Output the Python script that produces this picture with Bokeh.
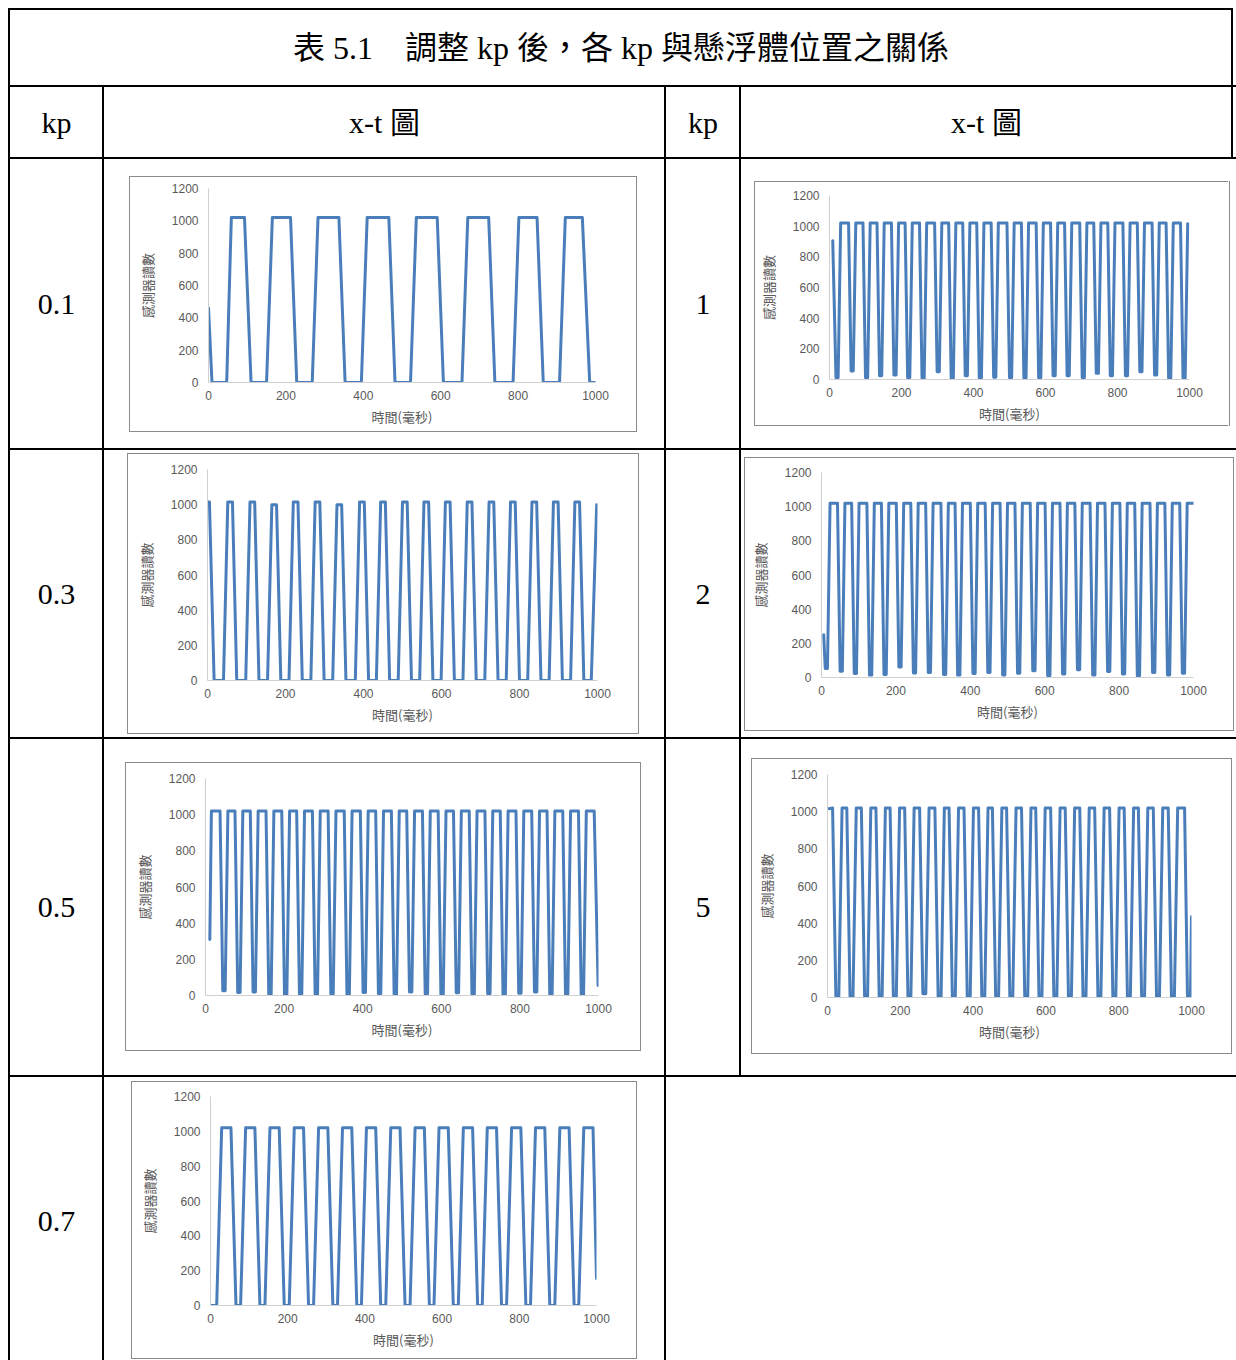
from bokeh.plotting import figure
from bokeh.layouts import row, column
from bokeh.models import Spacer, Range1d, FixedTicker
from bokeh.core.properties import value
from bokeh.embed import file_html
from bokeh.resources import INLINE

# ---------------- texts ----------------
TITLE = "表 5.1\u3000調整 kp 後，各 kp 與懸浮體位置之關係"
HEAD_KP = "kp"
HEAD_XT = "x-t 圖"
X_LABEL = "時間(毫秒)"
Y_LABEL = "感測器讀數"
X_TICKS = [0, 200, 400, 600, 800, 1000]
Y_TICKS = [0, 200, 400, 600, 800, 1000, 1200]

# ---------------- data (time in ms, sensor reading) ----------------
KP01_T = [0, 9, 47, 59, 93, 110,
          150, 165, 212, 228,
          268, 283, 337, 353,
          395, 410, 466, 482,
          522, 537, 591, 607,
          655, 670, 724, 740,
          787, 802, 849, 865,
          907, 922, 966, 985, 1000]
KP01_Y = [460, 0, 0, 1020, 1020, 0,
          0, 1020, 1020, 0,
          0, 1020, 1020, 0,
          0, 1020, 1020, 0,
          0, 1020, 1020, 0,
          0, 1020, 1020, 0,
          0, 1020, 1020, 0,
          0, 1020, 1020, 0, 0]

KP1_T = [9,
         18, 24, 31, 53,
         60, 66, 73, 93,
         100, 106, 113, 132,
         139, 145, 152, 172,
         179, 185, 192, 210,
         217, 223, 230, 250,
         257, 263, 270, 292,
         299, 305, 312, 331,
         338, 344, 351, 370,
         377, 383, 390, 409,
         416, 422, 429, 449,
         456, 462, 469, 493,
         500, 506, 513, 533,
         540, 546, 553, 574,
         581, 587, 594, 614,
         621, 627, 634, 653,
         660, 666, 673, 695,
         702, 708, 715, 734,
         741, 747, 754, 773,
         780, 786, 793, 815,
         822, 828, 835, 855,
         862, 868, 875, 896,
         903, 909, 916, 935,
         942, 948, 955, 975,
         982, 988, 995]
KP1_Y = [905,
         12, 12, 1020, 1020,
         55, 55, 1020, 1020,
         12, 12, 1020, 1020,
         25, 25, 1020, 1020,
         30, 30, 1020, 1020,
         12, 12, 1020, 1020,
         8, 8, 1020, 1020,
         50, 50, 1020, 1020,
         8, 8, 1020, 1020,
         25, 25, 1020, 1020,
         10, 10, 1020, 1020,
         15, 15, 1020, 1020,
         12, 12, 1020, 1020,
         8, 8, 1020, 1020,
         12, 12, 1020, 1020,
         25, 25, 1020, 1020,
         25, 25, 1020, 1020,
         12, 12, 1020, 1020,
         40, 40, 1020, 1020,
         25, 25, 1020, 1020,
         25, 25, 1020, 1020,
         50, 50, 1020, 1020,
         30, 30, 1020, 1020,
         8, 8, 1020, 1020,
         10, 10, 1015]

KP03_T = [0, 5, 17,
          41, 52, 64, 75,
          98, 109, 121, 132,
          154, 165, 177, 188,
          209, 220, 232, 243,
          265, 276, 288, 299,
          321, 332, 344, 355,
          379, 390, 402, 413,
          433, 444, 456, 467,
          489, 500, 512, 523,
          544, 555, 567, 578,
          599, 610, 622, 633,
          655, 666, 678, 689,
          711, 722, 734, 745,
          766, 777, 789, 800,
          821, 832, 844, 855,
          876, 887, 899, 910,
          931, 942, 954, 965,
          984, 998]
KP03_Y = [1015, 1015, 0,
          0, 1015, 1015, 0,
          0, 1015, 1015, 0,
          0, 1000, 1000, 0,
          0, 1015, 1015, 0,
          0, 1015, 1015, 0,
          0, 1000, 1000, 0,
          0, 1015, 1015, 0,
          0, 1015, 1015, 0,
          0, 1015, 1015, 0,
          0, 1015, 1015, 0,
          0, 1015, 1015, 0,
          0, 1015, 1015, 0,
          0, 1015, 1015, 0,
          0, 1015, 1015, 0,
          0, 1015, 1015, 0,
          0, 1015, 1015, 0,
          0, 1015, 1015, 0,
          0, 1000]

KP2_T = [6,
         10, 16, 23, 43,
         50, 56, 63, 81,
         88, 94, 101, 122,
         129, 135, 142, 161,
         168, 174, 181, 201,
         208, 214, 221, 240,
         247, 253, 260, 280,
         287, 293, 300, 321,
         328, 334, 341, 359,
         366, 372, 379, 400,
         407, 413, 420, 440,
         447, 453, 460, 480,
         487, 493, 500, 520,
         527, 533, 540, 561,
         568, 574, 581, 601,
         608, 614, 621, 641,
         648, 654, 661, 681,
         688, 694, 701, 722,
         729, 735, 742, 762,
         769, 775, 782, 802,
         809, 815, 822, 842,
         849, 855, 862, 883,
         890, 896, 903, 923,
         930, 936, 943, 963,
         970, 976, 983, 1000]
KP2_Y = [250,
         53, 53, 1020, 1020,
         37, 37, 1020, 1020,
         23, 23, 1020, 1020,
         14, 14, 1020, 1020,
         18, 18, 1020, 1020,
         62, 62, 1020, 1020,
         27, 27, 1020, 1020,
         30, 30, 1020, 1020,
         18, 18, 1020, 1020,
         14, 14, 1020, 1020,
         23, 23, 1020, 1020,
         30, 30, 1020, 1020,
         15, 15, 1020, 1020,
         25, 25, 1020, 1020,
         40, 40, 1020, 1020,
         10, 10, 1020, 1020,
         20, 20, 1020, 1020,
         45, 45, 1020, 1020,
         15, 15, 1020, 1020,
         35, 35, 1020, 1020,
         20, 20, 1020, 1020,
         10, 10, 1020, 1020,
         30, 30, 1020, 1020,
         15, 15, 1020, 1020,
         25, 25, 1020, 1020]

KP05_T = [11, 15, 37,
          44, 50, 57, 75,
          82, 88, 95, 114,
          121, 127, 134, 154,
          161, 167, 174, 194,
          201, 207, 214, 232,
          239, 245, 252, 272,
          279, 285, 292, 312,
          319, 325, 332, 353,
          360, 366, 373, 394,
          401, 407, 414, 433,
          440, 446, 453, 473,
          480, 486, 493, 512,
          519, 525, 532, 552,
          559, 565, 572, 592,
          599, 605, 612, 631,
          638, 644, 651, 671,
          678, 684, 691, 711,
          718, 724, 731, 750,
          757, 763, 770, 790,
          797, 803, 810, 830,
          837, 843, 850, 869,
          876, 882, 889, 909,
          916, 922, 929, 949,
          956, 962, 969, 989,
          999]
KP05_Y = [310, 1020, 1020,
          26, 26, 1020, 1020,
          17, 17, 1020, 1020,
          20, 20, 1020, 1020,
          2, 2, 1020, 1020,
          2, 2, 1020, 1020,
          7, 7, 1020, 1020,
          2, 2, 1020, 1020,
          7, 7, 1020, 1020,
          0, 0, 1020, 1020,
          17, 17, 1020, 1020,
          10, 10, 1020, 1020,
          5, 5, 1020, 1020,
          20, 20, 1020, 1020,
          8, 8, 1020, 1020,
          3, 3, 1020, 1020,
          15, 15, 1020, 1020,
          5, 5, 1020, 1020,
          10, 10, 1020, 1020,
          3, 3, 1020, 1020,
          12, 12, 1020, 1020,
          20, 20, 1020, 1020,
          5, 5, 1020, 1020,
          8, 8, 1020, 1020,
          3, 3, 1020, 1020,
          55]

KP5_T = [0,
         14, 23, 31, 40,
         53, 62, 70, 79,
         93, 102, 110, 119,
         133, 142, 150, 159,
         172, 181, 189, 198,
         212, 221, 229, 238,
         253, 262, 270, 279,
         295, 304, 312, 321,
         334, 343, 351, 360,
         375, 384, 392, 401,
         415, 424, 432, 441,
         453, 462, 470, 479,
         492, 501, 509, 518,
         533, 542, 550, 559,
         572, 581, 589, 598,
         613, 622, 630, 639,
         653, 662, 670, 679,
         693, 702, 710, 719,
         734, 743, 751, 760,
         775, 784, 792, 801,
         815, 824, 832, 841,
         854, 863, 871, 880,
         895, 904, 912, 921,
         936, 945, 953, 962,
         981, 989, 997, 1000]
KP5_Y = [1015,
         1020, 0, 0, 1020,
         1020, 0, 0, 1020,
         1020, 0, 0, 1020,
         1020, 0, 0, 1020,
         1020, 0, 0, 1020,
         1020, 0, 0, 1020,
         1020, 20, 20, 1020,
         1020, 0, 0, 1020,
         1020, 0, 0, 1020,
         1020, 0, 0, 1020,
         1020, 0, 0, 1020,
         1020, 0, 0, 1020,
         1020, 0, 0, 1020,
         1020, 0, 0, 1020,
         1020, 0, 0, 1020,
         1020, 0, 0, 1020,
         1020, 0, 0, 1020,
         1020, 0, 0, 1020,
         1020, 0, 0, 1020,
         1020, 0, 0, 1020,
         1020, 0, 0, 1020,
         1020, 0, 0, 1020,
         1020, 0, 0, 1020,
         1020, 0, 0, 1020,
         1020, 0, 0, 434]

KP07_T = [0, 16, 29, 53, 66,
          78, 91, 115, 128,
          141, 154, 178, 191,
          204, 217, 241, 254,
          267, 280, 304, 317,
          329, 342, 366, 379,
          391, 404, 428, 441,
          454, 467, 491, 504,
          517, 530, 554, 567,
          579, 592, 616, 629,
          642, 655, 679, 692,
          704, 717, 741, 754,
          767, 780, 804, 817,
          829, 842, 866, 879,
          892, 905, 929, 942,
          954, 967, 991, 1000]
KP07_Y = [0, 0, 1020, 1020, 0,
          0, 1020, 1020, 0,
          0, 1020, 1020, 0,
          0, 1020, 1020, 0,
          0, 1020, 1020, 0,
          0, 1020, 1020, 0,
          0, 1020, 1020, 0,
          0, 1020, 1020, 0,
          0, 1020, 1020, 0,
          0, 1020, 1020, 0,
          0, 1020, 1020, 0,
          0, 1020, 1020, 0,
          0, 1020, 1020, 0,
          0, 1020, 1020, 0,
          0, 1020, 1020, 0,
          0, 1020, 1020, 155]

# ---------------- styles ----------------
BLACK = "#000000"
GRAY = "#8a8a8a"
BLUE = "#4a7ebb"
TXT_GRAY = "#595959"
SERIF = "Liberation Serif, Noto Sans CJK TC"


def fill(w, h, color=None):
    if color is None:
        return Spacer(width=w, height=h)
    return Spacer(width=w, height=h, styles={"background-color": color})


def text_cell(w, h, txt, size="30px", yfrac=0.5):
    p = figure(width=w, height=h, x_range=Range1d(0, 1), y_range=Range1d(0, 1),
               toolbar_location=None, output_backend="svg", min_border=0,
               x_axis_type=None, y_axis_type=None, outline_line_color=None,
               background_fill_color="white", border_fill_color="white")
    p.text(x=[0.5], y=[yfrac], text=[txt], text_align="center", text_baseline="middle",
           text_font=value(SERIF), text_font_size=size, text_color="black")
    return p


def chart(T, Y, box, frame):
    bl, bt, br, bb = box
    x0, yt, x1, yb = frame
    p = figure(frame_width=x1 - x0, frame_height=yb - yt,
               x_range=Range1d(0, 1000), y_range=Range1d(0, 1200),
               toolbar_location=None, output_backend="svg",
               min_border_left=x0 - bl - 1, min_border_right=br - 1 - x1,
               min_border_top=yt - bt - 1, min_border_bottom=bb - 1 - yb,
               background_fill_color="white", border_fill_color="white",
               outline_line_color=None)
    p.line(T, Y, line_color=BLUE, line_width=3, line_join="round", line_cap="round")
    p.grid.visible = False
    p.xaxis.ticker = FixedTicker(ticks=X_TICKS)
    p.yaxis.ticker = FixedTicker(ticks=Y_TICKS)
    p.xaxis.axis_label = X_LABEL
    p.yaxis.axis_label = Y_LABEL
    for ax in (p.xaxis[0], p.yaxis[0]):
        ax.major_tick_line_color = None
        ax.minor_tick_line_color = None
        ax.major_tick_out = 0
        ax.axis_line_color = "#d0d0d0"
        ax.major_label_text_font = "Liberation Sans"
        ax.major_label_text_font_size = "12px"
        ax.major_label_text_color = TXT_GRAY
        ax.axis_label_text_font = "Noto Sans CJK TC"
        ax.axis_label_text_font_size = "13px"
        ax.axis_label_text_font_style = "normal"
        ax.axis_label_text_color = TXT_GRAY
    p.xaxis.major_label_standoff = 8
    p.xaxis.axis_label_standoff = 4
    p.yaxis.major_label_standoff = 10
    p.yaxis.axis_label_standoff = 12
    return p


def chart_cell(cell, box, frame, T, Y):
    cl, ct, cr, cb = cell
    bl, bt, br, bb = box
    fig = chart(T, Y, box, frame)
    w, h = br - bl, bb - bt
    boxed = row(fill(1, h, GRAY),
                column(fill(w - 2, 1, GRAY), fig, fill(w - 2, 1, GRAY)),
                fill(1, h, GRAY))
    mid = []
    if bl > cl:
        mid.append(fill(bl - cl, h))
    mid.append(boxed)
    if cr > br:
        mid.append(fill(cr - br, h))
    parts = []
    if bt > ct:
        parts.append(fill(cr - cl, bt - ct))
    parts.append(row(*mid))
    if cb > bb:
        parts.append(fill(cr - cl, cb - bb))
    return column(*parts)


LEFT = 8     # page offset of the table
TOP = 8
W = 1236 - LEFT


def hline():
    return fill(W, 2, BLACK)


def vline(h):
    return fill(2, h, BLACK)


bands = []
bands.append(fill(W, TOP))
bands.append(row(fill(1225, 2, BLACK), fill(3, 2)))
bands.append(row(vline(75), text_cell(1221, 75, TITLE, "32px"), vline(75), fill(3, 75)))
bands.append(hline())
bands.append(row(vline(70), text_cell(92, 70, HEAD_KP), vline(70),
                 text_cell(560, 70, HEAD_XT), vline(70),
                 text_cell(73, 70, HEAD_KP), vline(70),
                 text_cell(490, 70, HEAD_XT), vline(70), fill(3, 70)))
bands.append(hline())

# row 1: kp 0.1 and 1
h1 = 289
bands.append(row(vline(h1), text_cell(92, h1, "0.1"), vline(h1),
                 chart_cell((104, 159, 664, 448), (129, 176, 637, 432), (208, 188, 595, 382), KP01_T, KP01_Y),
                 vline(h1), text_cell(73, h1, "1"), vline(h1),
                 chart_cell((741, 159, 1236, 448), (754, 181, 1229, 426), (828, 195, 1188, 379), KP1_T, KP1_Y)))
bands.append(hline())

# row 2: kp 0.3 and 2
h2 = 287
bands.append(row(vline(h2), text_cell(92, h2, "0.3"), vline(h2),
                 chart_cell((104, 450, 664, 737), (127, 453, 639, 734), (207, 469, 597, 680), KP03_T, KP03_Y),
                 vline(h2), text_cell(73, h2, "2"), vline(h2),
                 chart_cell((741, 450, 1236, 737), (744, 457, 1234, 731), (821, 472, 1193, 677), KP2_T, KP2_Y)))
bands.append(hline())

# row 3: kp 0.5 and 5
h3 = 336
bands.append(row(vline(h3), text_cell(92, h3, "0.5"), vline(h3),
                 chart_cell((104, 739, 664, 1075), (125, 762, 641, 1051), (205, 778, 598, 995), KP05_T, KP05_Y),
                 vline(h3), text_cell(73, h3, "5"), vline(h3),
                 chart_cell((741, 739, 1236, 1075), (751, 758, 1232, 1054), (827, 774, 1191, 997), KP5_T, KP5_Y)))
bands.append(hline())

# row 4: kp 0.7
h4 = 283
bands.append(row(vline(h4), text_cell(92, h4, "0.7", yfrac=0.49), vline(h4),
                 chart_cell((104, 1077, 664, 1360), (131, 1081, 637, 1359), (210, 1096, 596, 1305), KP07_T, KP07_Y),
                 vline(h4), fill(570, h4)))

layout = row(fill(LEFT, 1360), column(*bands))

with open("out.html", "w", encoding="utf-8") as f:
    f.write(file_html(layout, INLINE))
